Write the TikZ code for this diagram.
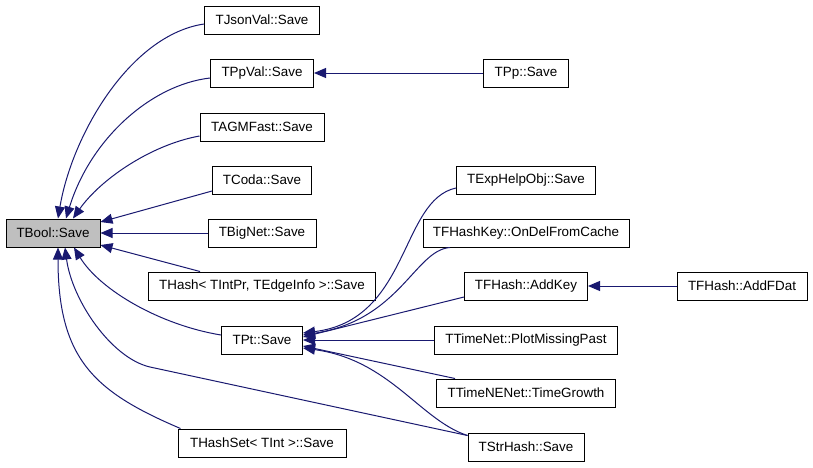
\documentclass[tikz,border=0pt]{standalone}
\usepackage{fontspec}
\setmainfont{Liberation Sans}
\usetikzlibrary{arrows.meta}
\definecolor{midnight}{RGB}{25,25,112}
\definecolor{grey75}{RGB}{191,191,191}
\tikzset{%
    fn/.style={draw=black, line width=1pt, minimum height=28pt, inner sep=0pt,
        font=\fontsize{13.4}{15}\selectfont},
    edge/.style={-{Triangle[length=12pt,width=10pt]}, draw=midnight, line width=1pt}
}
\begin{document}
\begin{tikzpicture}[x=1pt,y=-1pt]
    \useasboundingbox (0,0) rectangle (813,467);
    \node[fn, fill=grey75, minimum width=94pt] (bool) at (53,233) {TBool::Save};
    \node[fn, minimum width=115pt] (jsonval) at (262,20) {TJsonVal::Save};
    \node[fn, minimum width=103pt] (ppval) at (262,73) {TPpVal::Save};
    \node[fn, minimum width=124pt] (agmfast) at (262,127) {TAGMFast::Save};
    \node[fn, minimum width=99pt] (coda) at (262,180) {TCoda::Save};
    \node[fn, minimum width=108pt] (bignet) at (262,233) {TBigNet::Save};
    \node[fn, minimum width=227pt] (hash) at (262,286) {THash< TIntPr, TEdgeInfo >::Save};
    \node[fn, minimum width=81pt] (pt) at (262,340) {TPt::Save};
    \node[fn, minimum width=168pt] (hashset) at (262,443) {THashSet< TInt >::Save};
    \node[fn, minimum width=85pt] (pp) at (526,73) {TPp::Save};
    \node[fn, minimum width=139pt] (exphelp) at (526,180) {TExpHelpObj::Save};
    \node[fn, minimum width=206pt] (fhashkey) at (526,233) {TFHashKey::OnDelFromCache};
    \node[fn, minimum width=123pt] (addkey) at (526,286) {TFHash::AddKey};
    \node[fn, minimum width=130pt] (addfdat) at (742,286) {TFHash::AddFDat};
    \node[fn, minimum width=183pt] (timenet) at (526,340) {TTimeNet::PlotMissingPast};
    \node[fn, minimum width=179pt] (timenenet) at (526,393) {TTimeNENet::TimeGrowth};
    \node[fn, minimum width=116pt] (strhash) at (526,447) {TStrHash::Save};
    % callers of TBool::Save
    \draw[edge] ([yshift=-4pt]jsonval.west) .. controls (130,35) and (72,135) .. ([xshift=5pt]bool.north);
    \draw[edge] ([yshift=-5pt]ppval.west) .. controls (150,85) and (90,140) .. ([xshift=13pt]bool.north);
    \draw[edge] ([yshift=-9pt]agmfast.west) .. controls (150,145) and (100,180) .. ([xshift=20pt]bool.north);
    \draw[edge] ([yshift=-11pt]coda.west) -- ([yshift=11pt]bool.east);
    \draw[edge] (bignet.west) -- (bool.east);
    \draw[edge] ([xshift=-62pt]hash.north) -- ([yshift=-12pt]bool.east);
    \draw[edge] ([yshift=5pt]pt.west) .. controls (160,325) and (100,290) .. ([xshift=21pt]bool.south);
    \draw[edge] ([yshift=-3pt]strhash.north west) -- (150,367) .. controls (111,358) and (72,300) .. ([xshift=12pt]bool.south);
    \draw[edge] ([xshift=3pt]hashset.north west) .. controls (95,392) and (58,360) .. ([xshift=5pt]bool.south);
    % callers of TPt::Save
    \draw[edge] ([yshift=-8pt]exphelp.west) .. controls (400,200) and (410,320) .. ([yshift=7pt]pt.east);
    \draw[edge] ([xshift=-76pt]fhashkey.south) .. controls (415,250) and (400,320) .. ([yshift=5pt]pt.east);
    \draw[edge] ([yshift=-11pt]addkey.west) -- ([yshift=3pt]pt.east);
    \draw[edge] (timenet.west) -- (pt.east);
    \draw[edge] ([xshift=-71pt]timenenet.north) -- ([yshift=-6pt]pt.east);
    \draw[edge] ([yshift=-3pt]strhash.north west) .. controls (420,420) and (390,360) .. ([yshift=-8pt]pt.east);
    % the rest
    \draw[edge] (pp.west) -- (ppval.east);
    \draw[edge] (addfdat.west) -- (addkey.east);
\end{tikzpicture}
\end{document}
